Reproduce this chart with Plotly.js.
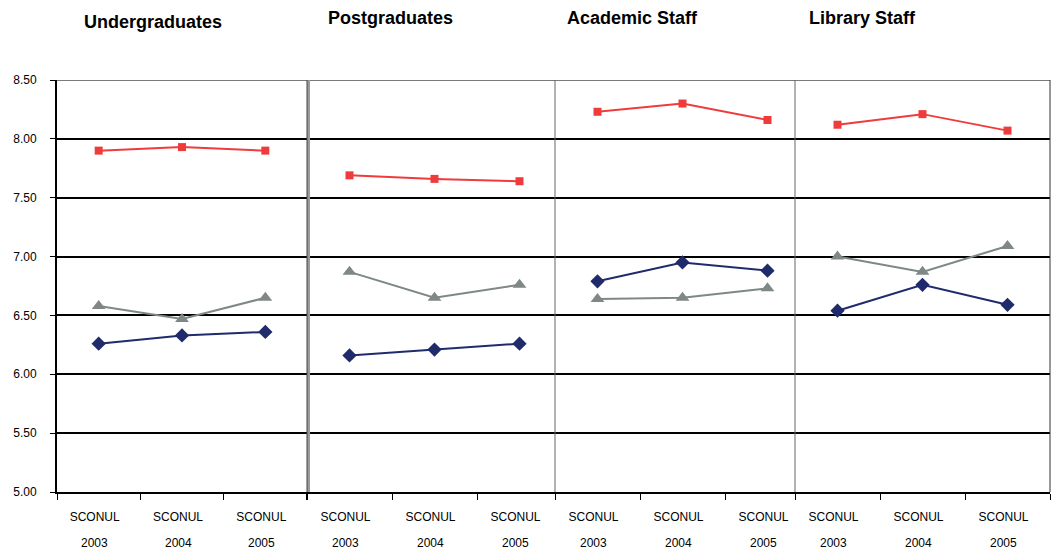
<!DOCTYPE html>
<html><head><meta charset="utf-8">
<script src="https://cdn.plot.ly/plotly-3.0.1.min.js"></script>
<style>body{margin:0;background:#fff}#chart{width:1052px;height:551px}</style>
</head><body><div id="chart"></div>
<script>
const panels = ["Undergraduates", "Postgraduates", "Academic Staff", "Library Staff"];
const years = ["2003", "2004", "2005"];
const catLabel = "SCONUL";
// series values per panel (2003, 2004, 2005)
const navySeries = [[6.26, 6.33, 6.36], [6.16, 6.21, 6.26], [6.79, 6.95, 6.88], [6.54, 6.76, 6.59]];
const redSeries  = [[7.90, 7.93, 7.90], [7.69, 7.66, 7.64], [8.23, 8.30, 8.16], [8.12, 8.21, 8.07]];
const graySeries = [[6.58, 6.47, 6.65], [6.87, 6.65, 6.76], [6.64, 6.65, 6.73], [7.00, 6.87, 7.09]];
const yTicks = [5.0, 5.5, 6.0, 6.5, 7.0, 7.5, 8.0, 8.5];

const W = 1052, L = 57, R = 2, PW = W - L - R;
const edges = [57, 307, 555, 795, 1050];
const spacing = [83.33, 85, 85, 85];
const pos = [0.5, 1.5, 2.5];

const traces = [];
const layout = {
  width: 1052, height: 551,
  margin: {l: L, r: R, t: 80, b: 59},
  paper_bgcolor: '#fff', plot_bgcolor: '#fff',
  showlegend: false,
  font: {family: 'Liberation Sans, Arial, sans-serif', size: 12, color: '#000'},
  yaxis: {
    range: [5, 8.5], tickvals: yTicks, tickformat: '.2f',
    showgrid: true, gridcolor: '#000', gridwidth: 2,
    showline: true, linecolor: '#000', linewidth: 2,
    ticks: 'outside', ticklen: 5, tickcolor: '#000', tickwidth: 1,
    ticklabelstandoff: 11, zeroline: false, fixedrange: true,
    tickfont: {size: 12}
  },
  shapes: [], annotations: []
};

const colors = {navy: '#1F2B6B', red: '#EF3B3B', gray: '#7F8787'};

panels.forEach((name, i) => {
  const ax = i === 0 ? 'x' : 'x' + (i + 1);
  const axKey = i === 0 ? 'xaxis' : 'xaxis' + (i + 1);
  const d0 = (edges[i] - L) / PW, d1 = (edges[i + 1] - L) / PW;
  const widthUnits = (edges[i + 1] - edges[i]) / spacing[i];
  layout[axKey] = {
    domain: [d0, d1], anchor: 'y', range: [0, widthUnits],
    tickvals: pos, ticktext: pos.map(() => catLabel),
    ticks: '', showgrid: false, zeroline: false,
    showline: true, linecolor: '#000', linewidth: 2,
    ticklabelstandoff: 13, ticklabelshift: -4,
    tickfont: {size: 12},
    minor: {tickvals: [0, 1, 2, 3], ticks: 'outside', ticklen: 6, tickcolor: '#000', tickwidth: 1, showgrid: false},
    fixedrange: true
  };
  const series = [[navySeries[i], colors.navy, 'diamond', 11], [graySeries[i], colors.gray, 'triangle-up', 12], [redSeries[i], colors.red, 'square', 8]];
  series.forEach(([vals, c, sym, sz]) => {
    traces.push({
      x: pos, y: vals, xaxis: ax, yaxis: 'y', type: 'scatter', mode: 'lines+markers',
      line: {color: c, width: 2}, marker: {symbol: sym, size: sz, color: c},
      hoverinfo: 'y', cliponaxis: false
    });
  });
  years.forEach((yr, k) => {
    layout.annotations.push({
      xref: ax, yref: 'paper', x: pos[k], y: -0.124, text: yr, showarrow: false,
      xanchor: 'center', yanchor: 'middle', xshift: -4,
      font: {size: 12, color: '#000'}
    });
  });
});

// panel titles
const titleX = [82, 326, 565, 807];
const titleY = [22, 18, 18, 18];
panels.forEach((name, i) => {
  layout.annotations.push({
    xref: 'paper', yref: 'paper', x: (titleX[i] - L) / PW, y: 1 + (80 - titleY[i]) / 412,
    xanchor: 'left', yanchor: 'middle', text: '<b>' + name + '</b>', showarrow: false,
    font: {size: 18, color: '#000'}
  });
});

// top border and panel dividers
layout.shapes.push({type: 'line', xref: 'paper', yref: 'y', x0: 0, x1: 1, y0: 8.5, y1: 8.5, line: {color: '#7a7a7a', width: 2}});
layout.shapes.push({type: 'line', xref: 'paper', yref: 'paper', x0: (308.5 - L) / PW, x1: (308.5 - L) / PW, y0: 0, y1: 1, line: {color: '#9a9a9a', width: 3}});
layout.shapes.push({type: 'line', xref: 'paper', yref: 'paper', x0: (307 - L) / PW, x1: (307 - L) / PW, y0: 0, y1: 1, line: {color: '#444', width: 1}});
[555, 795].forEach(px => {
  layout.shapes.push({type: 'line', xref: 'paper', yref: 'paper', x0: (px - L) / PW, x1: (px - L) / PW, y0: 0, y1: 1, line: {color: '#666', width: 1}});
});
layout.shapes.push({type: 'line', xref: 'paper', yref: 'paper', x0: 1, x1: 1, y0: 0, y1: 1, line: {color: '#333', width: 1}});

Plotly.newPlot('chart', traces, layout, {displayModeBar: false, staticPlot: true});
</script></body></html>
